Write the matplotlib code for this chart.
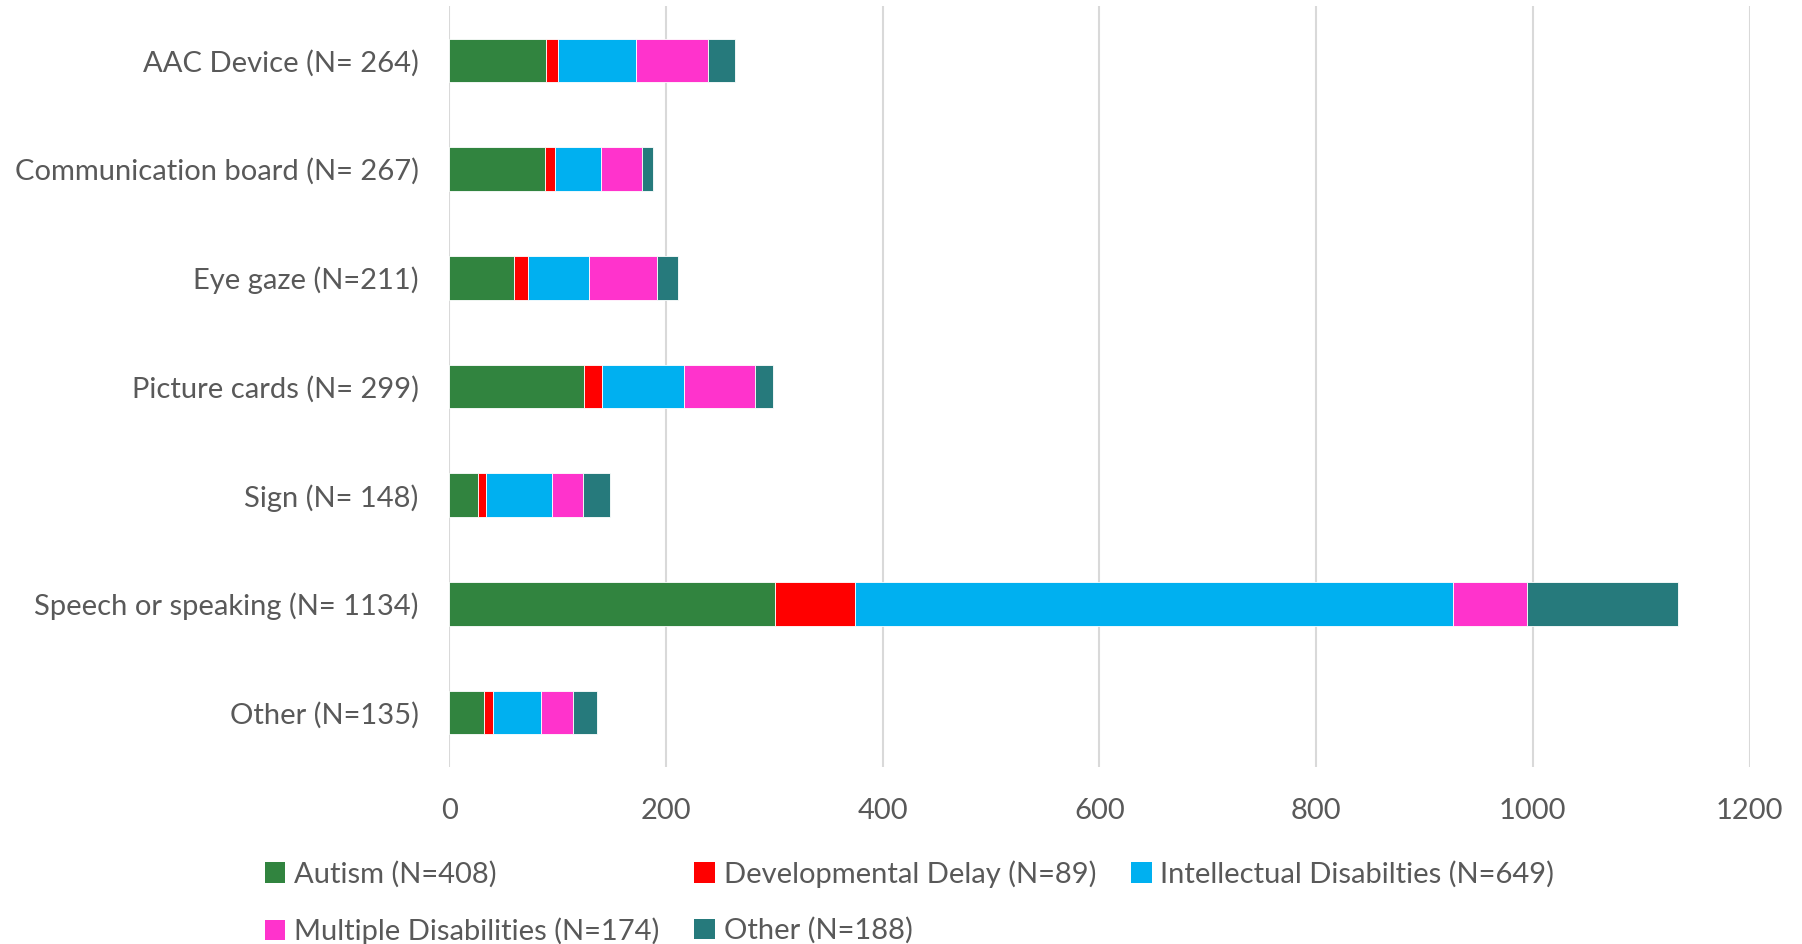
import numpy as np
import matplotlib
matplotlib.use('Agg')
from matplotlib import pyplot as plt
from matplotlib.patches import Patch

# categories, top to bottom as in the chart
categories = ['AAC Device (N= 264)', 'Communication board (N= 267)', 'Eye gaze (N=211)',
              'Picture cards (N= 299)', 'Sign (N= 148)', 'Speech or speaking (N= 1134)',
              'Other (N=135)']

autism = [89, 88, 60, 124, 27, 301, 32]
dev_delay = [11, 10, 13, 17, 7, 73, 8]
intellectual = [72, 42, 56, 76, 61, 552, 45]
multiple = [67, 38, 63, 65, 28, 69, 29]
other = [25, 10, 19, 17, 25, 139, 22]

series_names = ['Autism (N=408)', 'Developmental Delay (N=89)', 'Intellectual Disabilties (N=649)',
                'Multiple Disabilities (N=174)', 'Other (N=188)']
series_values = [autism, dev_delay, intellectual, multiple, other]
colors = ['#31843F', '#FF0000', '#00B0F0', '#FF33CC', '#267A7C']

xticks = [0, 200, 400, 600, 800, 1000, 1200]


def _main():
    plt.rcParams['font.family'] = ['Lato', 'DejaVu Sans']
    text_col = '#595959'
    fs = 21

    fig = plt.figure(figsize=(18.02, 9.44), dpi=100)
    ax = fig.add_axes([0.2493, 0.1875, 0.7216, 0.8061])

    y = np.arange(len(categories))
    left = np.zeros(len(categories))
    for name, vals, c in zip(series_names, series_values, colors):
        vals = np.array(vals, dtype=float)
        ax.barh(y, vals, left=left, height=0.4, color=c, edgecolor='white',
                linewidth=0.6, label=name, zorder=3)
        left += vals

    ax.set_ylim(len(categories) - 0.5, -0.5)
    ax.set_yticks(y)
    ax.set_yticklabels(categories, fontsize=fs, color=text_col)
    ax.set_xlim(0, 1200)
    ax.set_xticks(xticks)
    ax.set_xticklabels([str(t) for t in xticks], fontsize=fs, color=text_col)
    ax.tick_params(axis='both', length=0)
    ax.tick_params(axis='x', pad=22)
    ax.tick_params(axis='y', pad=22)
    ax.grid(axis='x', color='#D9D9D9', linewidth=1.5, zorder=0)
    for s in ax.spines.values():
        s.set_visible(False)

    # legend: row-wise order in reference, matplotlib fills by column
    handles = [Patch(facecolor=c, label=n) for n, c in zip(series_names, colors)]
    order = [0, 3, 1, 4, 2]
    leg = fig.legend([handles[i] for i in order], [series_names[i] for i in order],
                     ncol=3, loc='upper left', bbox_to_anchor=(0.147, 0.089),
                     frameon=False, fontsize=fs, handlelength=0.7, handleheight=0.7,
                     handletextpad=0.3, columnspacing=1.2, labelspacing=1.02,
                     borderaxespad=0, borderpad=0)
    for t in leg.get_texts():
        t.set_color(text_col)

    fig.savefig('out.png', dpi=100)


if __name__ == '__main__':
    _main()
